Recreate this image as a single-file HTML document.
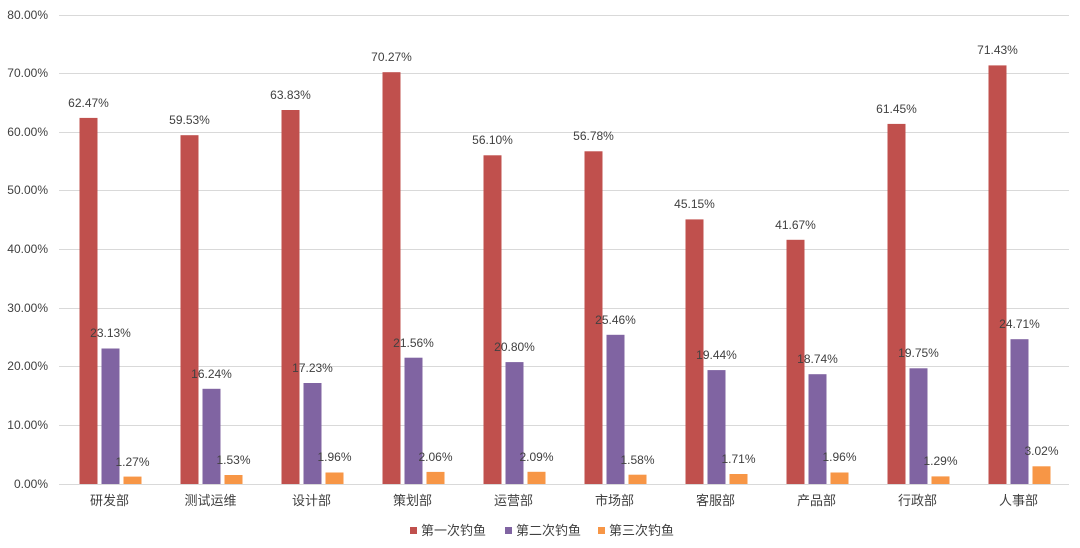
<!DOCTYPE html>
<html><head><meta charset="utf-8"><style>body{margin:0;background:#fff}svg{display:block}text{font-family:"Liberation Sans","Noto Sans CJK SC",sans-serif;fill:#404040}</style></head><body>
<svg width="1080" height="548" viewBox="0 0 1080 548">
<g stroke="#d9d9d9" stroke-width="1">
<line x1="59" x2="1069" y1="15.5" y2="15.5"/><line x1="59" x2="1069" y1="73.5" y2="73.5"/><line x1="59" x2="1069" y1="132.5" y2="132.5"/><line x1="59" x2="1069" y1="190.5" y2="190.5"/><line x1="59" x2="1069" y1="249.5" y2="249.5"/><line x1="59" x2="1069" y1="308.5" y2="308.5"/><line x1="59" x2="1069" y1="366.5" y2="366.5"/><line x1="59" x2="1069" y1="425.5" y2="425.5"/><line x1="59" x2="1069" y1="484.5" y2="484.5"/>
</g>
<g font-size="12" text-anchor="end">
<text x="48" y="19">80.00%</text><text x="48" y="77">70.00%</text><text x="48" y="136">60.00%</text><text x="48" y="194">50.00%</text><text x="48" y="253">40.00%</text><text x="48" y="312">30.00%</text><text x="48" y="370">20.00%</text><text x="48" y="429">10.00%</text><text x="48" y="488">0.00%</text>
</g>
<g fill="#c0504d">
<rect x="79.5" y="117.9" width="18" height="366.1"/><rect x="180.5" y="135.2" width="18" height="348.8"/><rect x="281.5" y="110" width="18" height="374"/><rect x="382.5" y="72.2" width="18" height="411.8"/><rect x="483.5" y="155.3" width="18" height="328.7"/><rect x="584.5" y="151.3" width="18" height="332.7"/><rect x="685.5" y="219.4" width="18" height="264.6"/><rect x="786.5" y="239.8" width="18" height="244.2"/><rect x="887.5" y="123.9" width="18" height="360.1"/><rect x="988.5" y="65.4" width="18" height="418.6"/>
</g>
<g fill="#8064a2">
<rect x="101.5" y="348.5" width="18" height="135.5"/><rect x="202.5" y="388.8" width="18" height="95.2"/><rect x="303.5" y="383" width="18" height="101"/><rect x="404.5" y="357.7" width="18" height="126.3"/><rect x="505.5" y="362.1" width="18" height="121.9"/><rect x="606.5" y="334.8" width="18" height="149.2"/><rect x="707.5" y="370.1" width="18" height="113.9"/><rect x="808.5" y="374.2" width="18" height="109.8"/><rect x="909.5" y="368.3" width="18" height="115.7"/><rect x="1010.5" y="339.2" width="18" height="144.8"/>
</g>
<g fill="#f79646">
<rect x="123.5" y="476.6" width="18" height="7.4"/><rect x="224.5" y="475" width="18" height="9"/><rect x="325.5" y="472.5" width="18" height="11.5"/><rect x="426.5" y="471.9" width="18" height="12.1"/><rect x="527.5" y="471.8" width="18" height="12.2"/><rect x="628.5" y="474.7" width="18" height="9.3"/><rect x="729.5" y="474" width="18" height="10"/><rect x="830.5" y="472.5" width="18" height="11.5"/><rect x="931.5" y="476.4" width="18" height="7.6"/><rect x="1032.5" y="466.3" width="18" height="17.7"/>
</g>
<g font-size="12" text-anchor="middle">
<text x="88.5" y="107">62.47%</text><text x="189.5" y="124">59.53%</text><text x="290.5" y="99">63.83%</text><text x="391.5" y="61">70.27%</text><text x="492.5" y="144">56.10%</text><text x="593.5" y="140">56.78%</text><text x="694.5" y="208">45.15%</text><text x="795.5" y="229">41.67%</text><text x="896.5" y="113">61.45%</text><text x="997.5" y="54">71.43%</text>
<text x="110.5" y="337">23.13%</text><text x="211.5" y="378">16.24%</text><text x="312.5" y="372">17.23%</text><text x="413.5" y="347">21.56%</text><text x="514.5" y="351">20.80%</text><text x="615.5" y="324">25.46%</text><text x="716.5" y="359">19.44%</text><text x="817.5" y="363">18.74%</text><text x="918.5" y="357">19.75%</text><text x="1019.5" y="328">24.71%</text>
<text x="132.5" y="466">1.27%</text><text x="233.5" y="464">1.53%</text><text x="334.5" y="461">1.96%</text><text x="435.5" y="461">2.06%</text><text x="536.5" y="461">2.09%</text><text x="637.5" y="464">1.58%</text><text x="738.5" y="463">1.71%</text><text x="839.5" y="461">1.96%</text><text x="940.5" y="465">1.29%</text><text x="1041.5" y="455">3.02%</text>
</g>
<g font-size="13" text-anchor="middle">
<text x="109.5" y="505">研发部</text><text x="210.5" y="505">测试运维</text><text x="311.5" y="505">设计部</text><text x="412.5" y="505">策划部</text><text x="513.5" y="505">运营部</text><text x="614.5" y="505">市场部</text><text x="715.5" y="505">客服部</text><text x="816.5" y="505">产品部</text><text x="917.5" y="505">行政部</text><text x="1018.5" y="505">人事部</text>
</g>
<rect x="410" y="527" width="7" height="7" fill="#c0504d"/><text x="421" y="535" font-size="13">第一次钓鱼</text>
<rect x="505" y="527" width="7" height="7" fill="#8064a2"/><text x="516" y="535" font-size="13">第二次钓鱼</text>
<rect x="598" y="527" width="7" height="7" fill="#f79646"/><text x="609" y="535" font-size="13">第三次钓鱼</text>
</svg>
</body></html>
